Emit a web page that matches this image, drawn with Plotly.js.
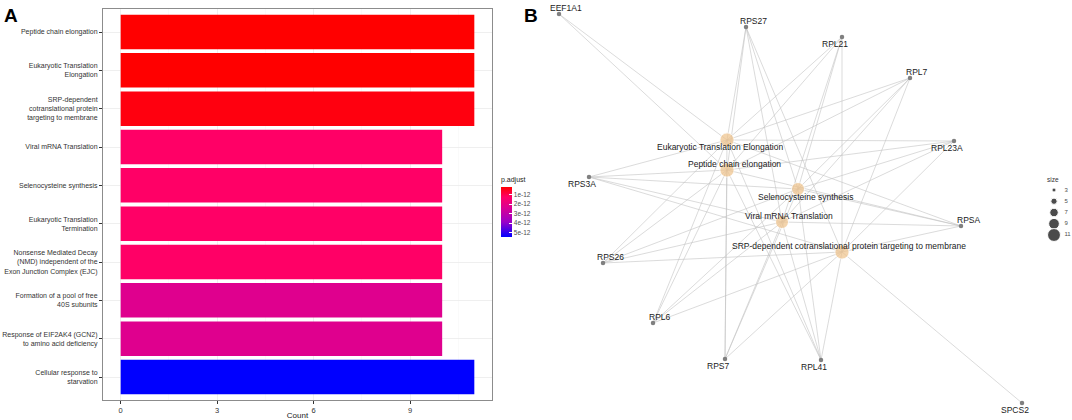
<!DOCTYPE html>
<html>
<head>
<meta charset="utf-8">
<script src="https://cdn.plot.ly/plotly-3.0.1.min.js"></script>
<style>html,body{margin:0;padding:0;background:#fff;}#chart{width:1072px;height:420px;}</style>
</head>
<body>
<div id="chart"></div>
<script>
// ---------- Panel A data ----------
const terms = [
  "Peptide chain elongation",
  "Eukaryotic Translation Elongation",
  "SRP-dependent cotranslational protein targeting to membrane",
  "Viral mRNA Translation",
  "Selenocysteine synthesis",
  "Eukaryotic Translation Termination",
  "Nonsense Mediated Decay (NMD) independent of the Exon Junction Complex (EJC)",
  "Formation of a pool of free 40S subunits",
  "Response of EIF2AK4 (GCN2) to amino acid deficiency",
  "Cellular response to starvation"
];
const termLabels = [
  "Peptide chain elongation",
  "Eukaryotic Translation<br>Elongation",
  "SRP-dependent<br>cotranslational protein<br>targeting to membrane",
  "Viral mRNA Translation",
  "Selenocysteine synthesis",
  "Eukaryotic Translation<br>Termination",
  "Nonsense Mediated Decay<br>(NMD) independent of the<br>Exon Junction Complex (EJC)",
  "Formation of a pool of free<br>40S subunits",
  "Response of EIF2AK4 (GCN2)<br>to amino acid deficiency",
  "Cellular response to<br>starvation"
];
const counts = [11, 11, 11, 10, 10, 10, 10, 10, 10, 11];
const pAdjust = [1.5e-13, 1.5e-13, 3e-13, 1.2e-12, 1.2e-12, 1.2e-12, 1.2e-12, 2.2e-12, 2.2e-12, 5.4e-12];
const xTicks = [0, 3, 6, 9];
const pTicks = [1e-12, 2e-12, 3e-12, 4e-12, 5e-12];
const pTickLabels = ["1e-12", "2e-12", "3e-12", "4e-12", "5e-12"];

// ---------- Panel B data ----------
const cats = [
  "Eukaryotic Translation Elongation",
  "Peptide chain elongation",
  "Selenocysteine synthesis",
  "Viral mRNA Translation",
  "SRP-dependent cotranslational protein targeting to membrane"
];
const catX = [727, 727, 798, 782, 842];
const catY = [140, 170, 189, 222, 252];
const catSize = [11, 11, 10, 10, 11];
const catLabelSide = ["dl", "ur", "dr", "ur", "ur"];

const genes = ["EEF1A1", "RPS27", "RPL21", "RPL7", "RPL23A", "RPS3A", "RPSA", "RPS26", "RPL6", "RPS7", "RPL41", "SPCS2"];
const geneX = [559, 746, 842, 910, 954, 589, 961, 603, 653, 725, 821, 1022];
const geneY = [14, 27, 37, 78, 141, 177, 226, 263, 323, 359, 360, 403];
const geneLabelSide = ["ur", "ur", "dl", "ur", "dl", "dl", "ur", "ur", "ur", "dl", "dl", "dl"];

const ribo = ["RPS27", "RPL21", "RPL7", "RPL23A", "RPS3A", "RPSA", "RPS26", "RPL6", "RPS7", "RPL41"];
const geneSets = {
  "Eukaryotic Translation Elongation": ribo.concat(["EEF1A1"]),
  "Peptide chain elongation": ribo.concat(["EEF1A1"]),
  "Selenocysteine synthesis": ribo,
  "Viral mRNA Translation": ribo,
  "SRP-dependent cotranslational protein targeting to membrane": ribo.concat(["SPCS2"])
};
const sizeLegend = [3, 5, 7, 9, 11];

// ---------- build ----------
const FONT = "Liberation Sans, Arial, sans-serif";
const negP = pAdjust.map(v => -v);
const pmin = 1.5e-13, pmax = 5.4e-12;

const barTrace = {
  type: "bar", orientation: "h",
  x: counts, y: terms, width: 0.9,
  xaxis: "x", yaxis: "y",
  marker: {
    color: negP, cmin: -pmax, cmax: -pmin,
    colorscale: [[0, "#0000FF"], [0.3, "#9A00C8"], [0.6, "#DD0090"], [0.8, "#FF0066"], [1, "#FF0000"]],
    line: {width: 0},
    colorbar: {
      x: 501 / 1072, xanchor: "left", xpad: 0,
      y: 1 - 205 / 420, yanchor: "middle", ypad: 0,
      len: 63 / 420, lenmode: "fraction", thickness: 11,
      outlinewidth: 0,
      tickvals: pTicks.map(v => -v), ticktext: pTickLabels,
      ticks: "inside", ticklen: 3, tickcolor: "#ffffff",
      tickfont: {family: FONT, size: 6.5, color: "#4d4d4d"},
      title: {text: "p.adjust", side: "top", font: {family: FONT, size: 7, color: "#222"}}
    }
  },
  hoverinfo: "x+y"
};

// edges
const ex = [], ey = [];
cats.forEach((c, ci) => {
  geneSets[c].forEach(g => {
    const gi = genes.indexOf(g);
    ex.push(geneX[gi], catX[ci], null);
    ey.push(geneY[gi], catY[ci], null);
  });
});
const edgeTrace = {
  type: "scatter", mode: "lines", x: ex, y: ey, xaxis: "x2", yaxis: "y2",
  line: {color: "rgba(195,195,195,0.75)", width: 0.8}, hoverinfo: "skip", showlegend: false
};
const geneTrace = {
  type: "scatter", mode: "markers", x: geneX, y: geneY, xaxis: "x2", yaxis: "y2",
  marker: {color: "#808080", size: 4.5}, text: genes, hoverinfo: "text", showlegend: false
};
const catTrace = {
  type: "scatter", mode: "markers", x: catX, y: catY, xaxis: "x2", yaxis: "y2",
  marker: {color: "#EFC28A", size: catSize.map(s => s * 1.3)}, text: cats, hoverinfo: "text", showlegend: false
};
const sizeDots = {
  type: "scatter", mode: "markers", x: sizeLegend.map(() => 0), y: sizeLegend, xaxis: "x3", yaxis: "y3",
  marker: {color: "#000", size: sizeLegend.map(s => 1.1 * s + 0.8)}, hoverinfo: "skip", showlegend: false
};
const sizeText = {
  type: "scatter", mode: "text", x: sizeLegend.map(() => 1.3), y: sizeLegend, xaxis: "x3", yaxis: "y3",
  text: sizeLegend.map(String), textposition: "middle right",
  textfont: {family: FONT, size: 6, color: "#4d4d4d"}, hoverinfo: "skip", showlegend: false
};

const shift = {ur: [7, 6], dl: [-7, -6.5], dr: [7, -7.5]};
const annotations = [];
genes.forEach((g, i) => {
  const s = shift[geneLabelSide[i]];
  annotations.push({xref: "x2", yref: "y2", x: geneX[i], y: geneY[i], text: g, showarrow: false,
    xshift: s[0], yshift: s[1], font: {family: FONT, size: 8.5, color: "#1a1a1a"}});
});
cats.forEach((c, i) => {
  const s = shift[catLabelSide[i]];
  annotations.push({xref: "x2", yref: "y2", x: catX[i], y: catY[i], text: c, showarrow: false,
    xshift: s[0], yshift: s[1], font: {family: FONT, size: 8.5, color: "#1a1a1a"}});
});
annotations.push({xref: "paper", yref: "paper", x: 2 / 1072, y: 1 - 3 / 420, xanchor: "left", yanchor: "top",
  text: "<b>A</b>", showarrow: false, font: {family: FONT, size: 19, color: "#000"}});
annotations.push({xref: "paper", yref: "paper", x: 522 / 1072, y: 1 - 3 / 420, xanchor: "left", yanchor: "top",
  text: "<b>B</b>", showarrow: false, font: {family: FONT, size: 19, color: "#000"}});
annotations.push({xref: "paper", yref: "paper", x: 1053 / 1072, y: 1 - 179 / 420, xanchor: "center", yanchor: "middle",
  text: "size", showarrow: false, font: {family: FONT, size: 6.5, color: "#333"}});

const layout = {
  width: 1072, height: 420,
  margin: {l: 0, r: 0, t: 0, b: 0},
  paper_bgcolor: "#fff", plot_bgcolor: "#fff",
  showlegend: false,
  font: {family: FONT},
  xaxis: {
    domain: [103 / 1072, 492 / 1072], range: [-0.55, 11.55],
    tickvals: xTicks, ticks: "outside", ticklen: 3, tickcolor: "#333",
    tickfont: {family: FONT, size: 7.5, color: "#333"},
    showgrid: true, gridcolor: "#ebebeb", gridwidth: 0.8,
    minor: {tickvals: [1.5, 4.5, 7.5, 10.5], showgrid: true, gridcolor: "#f5f5f5", gridwidth: 0.5, ticks: ""},
    zeroline: false, showline: true, mirror: true, linecolor: "#8c8c8c", linewidth: 1,
    title: {text: "Count", standoff: 2, font: {family: FONT, size: 8, color: "#222"}},
    automargin: false, fixedrange: true
  },
  yaxis: {
    domain: [1 - 400 / 420, 1 - 9 / 420], type: "category",
    range: [9.6, -0.6],
    tickvals: terms, ticktext: termLabels,
    ticks: "outside", ticklen: 3, tickcolor: "#333",
    tickfont: {family: FONT, size: 7, color: "#333"},
    showgrid: true, gridcolor: "#ebebeb", gridwidth: 0.8,
    zeroline: false, showline: true, mirror: true, linecolor: "#8c8c8c", linewidth: 1,
    automargin: false, fixedrange: true
  },
  xaxis2: {domain: [540 / 1072, 1], range: [540, 1072], visible: false, fixedrange: true},
  yaxis2: {domain: [0, 1], range: [420, 0], visible: false, fixedrange: true},
  xaxis3: {domain: [1046 / 1072, 1], range: [-1, 2.25], visible: false, fixedrange: true},
  yaxis3: {domain: [1 - 245 / 420, 1 - 180 / 420], range: [12.78, 1.22], visible: false, fixedrange: true},
  annotations: annotations
};

Plotly.newPlot("chart", [barTrace, edgeTrace, geneTrace, catTrace, sizeDots, sizeText], layout,
  {displayModeBar: false, staticPlot: true});
</script>
</body>
</html>
